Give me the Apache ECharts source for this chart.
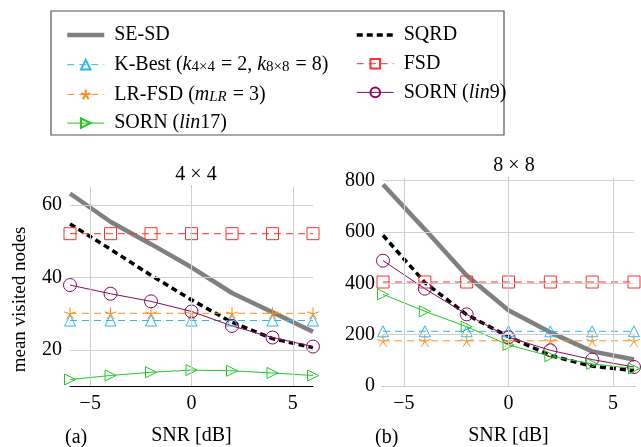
<!DOCTYPE html>
<html>
<head>
<meta charset="utf-8">
<script src="https://cdn.jsdelivr.net/npm/echarts@6/dist/echarts.min.js"></script>
<style>
  html, body { margin: 0; padding: 0; background: #fff; }
  #main { width: 641px; height: 447px; }
</style>
</head>
<body>
<div id="main"></div>
<script>
// SNR points
const snr = [-6, -4, -2, 0, 2, 4, 6];

// 4x4 mean visited nodes
const seSd4 = [63.2, 55.4, 49.2, 42.8, 35.7, 30.4, 25.0];
const sqrd4 = [54.8, 47.8, 40.6, 33.8, 27.6, 23.1, 20.6];
const kBest4 = [28.1, 28.1, 28.1, 28.1, 28.1, 28.1, 28.1];
const fsd4 = [52.1, 52.1, 52.1, 52.1, 52.1, 52.1, 52.1];
const lrFsd4 = [30.1, 30.1, 30.1, 30.1, 30.1, 30.1, 30.1];
const sorn9_4 = [37.9, 35.5, 33.4, 30.6, 26.6, 23.4, 20.9];
const sorn17_4 = [11.8, 12.9, 13.8, 14.4, 14.2, 13.6, 12.9];

// 8x8 mean visited nodes
const seSd8 = [785, 610, 430, 295, 209, 135, 103];
const sqrd8 = [587, 403, 278, 192, 119, 77, 60];
const kBest8 = [213, 213, 213, 213, 213, 213, 213];
const fsd8 = [405, 405, 405, 405, 405, 405, 405];
const lrFsd8 = [176, 176, 176, 176, 176, 176, 176];
const sorn9_8 = [488, 379, 279, 190, 139, 103, 74];
const sorn17_8 = [357, 291, 231, 160, 116, 86, 68];

// grid lines / tick labels
const xTicks = [-5, 0, 5];
const yTicks4 = [20, 40, 60];
const yTicks8 = [0, 200, 400, 600, 800];

const FONT = 'Liberation Serif';
const GRID_C = '#d0d0d0';
const starPath = 'path://M0,0L0,-10M0,0L9.51,-3.09M0,0L5.88,8.09M0,0L-5.88,8.09M0,0L-9.51,-3.09';
const triRight = 'path://M0,0L10,5L0,10Z';

const pair = (ys) => snr.map((x, i) => [x, ys[i]]);

const styles = {
  'SE-SD': { color: '#808080', width: 4.5, type: 'solid', symbol: 'none', size: 0 },
  'SQRD': { color: '#000000', width: 3.5, type: [6, 4], symbol: 'none', size: 0 },
  'K-Best': { color: '#33b5e8', width: 1, type: [7, 5], symbol: 'triangle', size: 11 },
  'FSD': { color: '#ff3030', width: 1, type: [7, 5], symbol: 'rect', size: 12 },
  'LR-FSD': { color: '#ff8c1a', width: 1, type: [7, 5], symbol: starPath, size: 12 },
  'SORN (lin9)': { color: '#8a0a5c', width: 1, type: 'solid', symbol: 'circle', size: 13 },
  'SORN (lin17)': { color: '#22c822', width: 1, type: 'solid', symbol: triRight, size: 11 }
};

const makeSeries = (name, ys, idx) => {
  const s = styles[name];
  const noMark = s.symbol === 'none';
  return {
    name: name,
    type: 'line',
    xAxisIndex: idx,
    yAxisIndex: idx,
    data: pair(ys),
    symbol: s.symbol,
    symbolSize: s.size,
    showSymbol: !noMark,
    animation: false,
    lineStyle: { color: s.color, width: s.width, type: s.type },
    itemStyle: { color: 'rgba(0,0,0,0)', borderColor: noMark ? 'rgba(0,0,0,0)' : s.color, borderWidth: noMark ? 0 : 1 }
  };
};

const gridSeries = (idx, yTicks) => ({
  type: 'line',
  xAxisIndex: idx,
  yAxisIndex: idx,
  data: [],
  silent: true,
  z: 1,
  markLine: {
    silent: true,
    symbol: 'none',
    label: { show: false },
    animation: false,
    lineStyle: { color: GRID_C, width: 1, type: 'solid' },
    data: xTicks.map(v => ({ xAxis: v })).concat(yTicks.map(v => ({ yAxis: v })))
  }
});

const xAxisCfg = (idx) => ({
  type: 'value',
  gridIndex: idx,
  min: -6,
  max: 6,
  interval: 1,
  name: 'SNR [dB]',
  nameLocation: 'middle',
  nameGap: 40,
  nameTextStyle: { fontFamily: FONT, fontSize: 20, color: '#000' },
  axisLine: { show: true, onZero: false, lineStyle: { color: '#000', width: 1 } },
  axisTick: { show: false },
  splitLine: { show: false },
  axisLabel: {
    fontFamily: FONT, fontSize: 20, color: '#000', margin: 8,
    formatter: v => xTicks.includes(v) ? (v < 0 ? '\u2212' + Math.abs(v) : String(v)) : ''
  }
});

const yAxisCfg = (idx, min, max, interval, ticks, name) => ({
  type: 'value',
  gridIndex: idx,
  min: min,
  max: max,
  interval: interval,
  name: name,
  nameLocation: 'middle',
  nameGap: 40,
  nameTextStyle: { fontFamily: FONT, fontSize: 19, color: '#000', padding: [0, 26, 0, 0] },
  axisLine: { show: true, lineStyle: { color: '#000', width: 1 } },
  axisTick: { show: false },
  splitLine: { show: false },
  axisLabel: {
    fontFamily: FONT, fontSize: 20, color: '#000', margin: 8,
    formatter: v => ticks.includes(v) ? String(v) : ''
  }
});

const rich = {
  n: { fontFamily: FONT, fontSize: 20, color: '#000', lineHeight: 20 },
  i: { fontFamily: FONT, fontSize: 20, fontStyle: 'italic', color: '#000', lineHeight: 20 },
  s: { fontFamily: FONT, fontSize: 15, color: '#000', lineHeight: 20, verticalAlign: 'bottom', padding: [6, 1, 0, 0] },
  si: { fontFamily: FONT, fontSize: 15, fontStyle: 'italic', color: '#000', lineHeight: 20, verticalAlign: 'bottom', padding: [6, 1, 0, 0] }
};

const legendLabels = {
  'SE-SD': '{n|SE-SD}',
  'SQRD': '{n|SQRD}',
  'K-Best': '{n|K-Best (}{i|k}{s|4\u00d74}{n| = 2, }{i|k}{s|8\u00d78}{n| = 8)}',
  'FSD': '{n|FSD}',
  'LR-FSD': '{n|LR-FSD (}{i|m}{si|LR}{n| = 3)}',
  'SORN (lin9)': '{n|SORN (}{i|lin}{n|9)}',
  'SORN (lin17)': '{n|SORN (}{i|lin}{n|17)}'
};

const legendItem = (name) => ({
  name: name,
  lineStyle: { width: styles[name].width, type: styles[name].type, color: styles[name].color }
});

const legendCfg = (left, names) => ({
  orient: 'vertical',
  left: left,
  top: 20,
  itemWidth: 37,
  itemHeight: 12,
  itemGap: 8.7,
  selectedMode: false,
  data: names.map(legendItem),
  formatter: name => legendLabels[name],
  textStyle: { fontFamily: FONT, fontSize: 20, color: '#000', lineHeight: 20, padding: [0, 0, 0, 5], rich: rich }
});

const chart = echarts.init(document.getElementById('main'), null, { renderer: 'canvas' });
chart.setOption({
  animation: false,
  backgroundColor: '#fff',
  title: [
    { text: '4 \u00d7 4', left: 191, top: 160, textAlign: 'center', textStyle: { fontFamily: FONT, fontSize: 20, fontWeight: 'normal', color: '#000' } },
    { text: '8 \u00d7 8', left: 509, top: 151, textAlign: 'center', textStyle: { fontFamily: FONT, fontSize: 20, fontWeight: 'normal', color: '#000' } },
    { text: '(a)', left: 60, top: 423, textStyle: { fontFamily: FONT, fontSize: 20, fontWeight: 'normal', color: '#000' } },
    { text: '(b)', left: 370, top: 423, textStyle: { fontFamily: FONT, fontSize: 20, fontWeight: 'normal', color: '#000' } }
  ],
  graphic: [{
    type: 'rect',
    shape: { x: 51, y: 11, width: 453, height: 124 },
    style: { fill: 'none', stroke: '#555', lineWidth: 1.2 }
  }],
  legend: [
    legendCfg(60, ['SE-SD', 'K-Best', 'LR-FSD', 'SORN (lin17)']),
    legendCfg(350, ['SQRD', 'FSD', 'SORN (lin9)'])
  ],
  grid: [
    { left: 70, top: 187, width: 243, height: 201 },
    { left: 383, top: 178, width: 251, height: 210 }
  ],
  xAxis: [xAxisCfg(0), xAxisCfg(1)],
  yAxis: [
    yAxisCfg(0, 10, 65, 10, yTicks4, 'mean visited nodes'),
    yAxisCfg(1, 0, 810, 200, yTicks8, '')
  ],
  series: [
    gridSeries(0, yTicks4),
    gridSeries(1, yTicks8),
    makeSeries('SE-SD', seSd4, 0),
    makeSeries('SQRD', sqrd4, 0),
    makeSeries('K-Best', kBest4, 0),
    makeSeries('FSD', fsd4, 0),
    makeSeries('LR-FSD', lrFsd4, 0),
    makeSeries('SORN (lin9)', sorn9_4, 0),
    makeSeries('SORN (lin17)', sorn17_4, 0),
    makeSeries('SE-SD', seSd8, 1),
    makeSeries('SQRD', sqrd8, 1),
    makeSeries('K-Best', kBest8, 1),
    makeSeries('FSD', fsd8, 1),
    makeSeries('LR-FSD', lrFsd8, 1),
    makeSeries('SORN (lin9)', sorn9_8, 1),
    makeSeries('SORN (lin17)', sorn17_8, 1)
  ]
});
</script>
</body>
</html>
